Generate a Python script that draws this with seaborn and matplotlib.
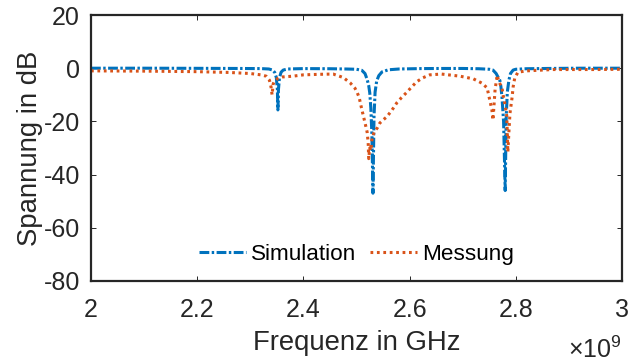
import matplotlib
matplotlib.use("Agg")
import matplotlib.pyplot as plt
import seaborn as sns
import pandas as pd
from matplotlib.ticker import FuncFormatter

# ---- data (frequency in GHz, level in dB) ----
sim_f = [2.00, 2.10, 2.20, 2.28, 2.32, 2.335, 2.342, 2.346, 2.349, 2.351, 2.352,
         2.353, 2.355, 2.358, 2.362, 2.37, 2.40, 2.45, 2.48, 2.50, 2.51, 2.516,
         2.520, 2.523, 2.525, 2.527, 2.529, 2.531, 2.533, 2.535, 2.538, 2.542,
         2.548, 2.56, 2.58, 2.62, 2.66, 2.70, 2.73, 2.75, 2.757, 2.763, 2.767,
         2.770, 2.772, 2.774, 2.777, 2.780, 2.782, 2.784, 2.787, 2.790, 2.795,
         2.80, 2.82, 2.86, 2.92, 3.00]
sim_db = [0.0, 0.0, -0.05, -0.1, -0.15, -0.3, -0.7, -1.6, -3.5, -8.0, -15.7,
          -8.0, -3.5, -1.5, -0.7, -0.3, -0.15, -0.2, -0.3, -0.4, -0.8, -2.0,
          -4.2, -6.5, -9.3, -15.0, -25.0, -47.0, -18.0, -9.0, -4.8, -2.8,
          -1.4, -0.6, -0.3, -0.15, -0.1, -0.1, -0.2, -0.4, -0.7, -2.0, -3.5,
          -4.6, -7.0, -11.0, -20.0, -46.0, -18.0, -9.0, -4.5, -2.0, -0.7,
          -0.4, -0.2, -0.1, 0.0, 0.0]

mes_f = [2.00, 2.10, 2.20, 2.26, 2.30, 2.32, 2.330, 2.336, 2.339, 2.341, 2.343,
         2.345, 2.348, 2.352, 2.36, 2.38, 2.40, 2.43, 2.456, 2.475, 2.488, 2.497,
         2.501, 2.505, 2.510, 2.516, 2.520, 2.522, 2.523, 2.525, 2.527, 2.529,
         2.533, 2.539, 2.544, 2.551, 2.557, 2.567, 2.576, 2.585, 2.595, 2.605,
         2.614, 2.625, 2.638, 2.66, 2.695, 2.72, 2.736, 2.746, 2.751, 2.755,
         2.757, 2.761, 2.765, 2.768, 2.774, 2.776, 2.780, 2.783, 2.785, 2.787,
         2.789, 2.793, 2.795, 2.798, 2.804, 2.82, 2.87, 2.95, 3.00]
mes_db = [-1.0, -1.1, -1.3, -1.6, -2.0, -2.5, -3.0, -4.5, -7.0, -10.0, -6.0,
          -5.0, -4.5, -3.8, -3.3, -3.0, -2.5, -2.3, -2.2, -3.5, -5.5, -7.5,
          -9.0, -11.0, -15.5, -20.5, -24.0, -28.0, -34.0, -30.0, -31.0, -27.0,
          -24.0, -22.5, -20.6, -19.3, -18.3, -15.7, -13.0, -11.0, -9.0, -6.8,
          -5.0, -3.6, -2.5, -2.2, -3.0, -4.0, -5.6, -7.4, -12.0, -15.7,
          -19.5, -8.0, -2.6, -5.0, -7.4, -10.0, -14.0, -18.0, -31.5, -24.0,
          -17.0, -11.0, -7.0, -3.7, -1.5, -1.0, -0.5, -0.5, -0.4]

x_ticks = [2.0, 2.2, 2.4, 2.6, 2.8, 3.0]
y_ticks = [-80, -60, -40, -20, 0, 20]

df_sim = pd.DataFrame({"f": sim_f, "dB": sim_db})
df_mes = pd.DataFrame({"f": mes_f, "dB": mes_db})

sns.set_theme(style="white")
plt.rcParams["font.family"] = ["Liberation Sans", "DejaVu Sans"]
plt.rcParams["mathtext.fontset"] = "custom"
plt.rcParams["mathtext.rm"] = "Liberation Sans"
plt.rcParams["mathtext.it"] = "Liberation Sans:italic"

fig = plt.figure(figsize=(6.35, 3.63), dpi=100)
ax = fig.add_axes([91 / 635, 1 - 281 / 363, 531 / 635, 266 / 363])

blue = "#0072BD"
orange = "#D95319"
sns.lineplot(data=df_sim, x="f", y="dB", ax=ax, color=blue, lw=2.2,
             linestyle=(0, (3.2, 0.8, 0.8, 0.8)), label="Simulation",
             estimator=None, sort=False)
sns.lineplot(data=df_mes, x="f", y="dB", ax=ax, color=orange, lw=2.2,
             linestyle=(0, (0.9, 1.2)), label="Messung",
             estimator=None, sort=False)

ax.set_xlim(2.0, 3.0)
ax.set_ylim(-80, 20)
ax.set_xticks(x_ticks)
ax.set_yticks(y_ticks)
ax.xaxis.set_major_formatter(FuncFormatter(lambda v, p: f"{v:g}"))
ax.yaxis.set_major_formatter(FuncFormatter(lambda v, p: f"{v:g}"))

dark = "#262626"
for s in ax.spines.values():
    s.set_visible(True)
    s.set_linewidth(1.6)
    s.set_color(dark)
ax.tick_params(direction="in", length=3.5, width=0.7, colors=dark,
               labelsize=18, top=True, right=True, bottom=True, left=True)
ax.tick_params(axis="x", pad=12)
ax.tick_params(axis="y", pad=8)

ax.set_xlabel("Frequenz in GHz", fontsize=19.8, color=dark)
ax.set_ylabel("Spannung in dB", fontsize=19.8, color=dark)
ax.xaxis.set_label_coords(0.5, -0.185)
ax.yaxis.set_label_coords(-0.09, 0.5)

ax.text(1.0, -0.29, r"$\times10^{9}$", transform=ax.transAxes, ha="right",
        va="baseline", fontsize=18, color=dark)

leg = ax.legend(loc="lower center", bbox_to_anchor=(0.5, -0.015), ncol=2,
                frameon=False, fontsize=16.2, handlelength=2.1,
                handletextpad=0.22, columnspacing=0.6)
for t in leg.get_texts():
    t.set_color("black")

fig.savefig("out.png", dpi=100)
